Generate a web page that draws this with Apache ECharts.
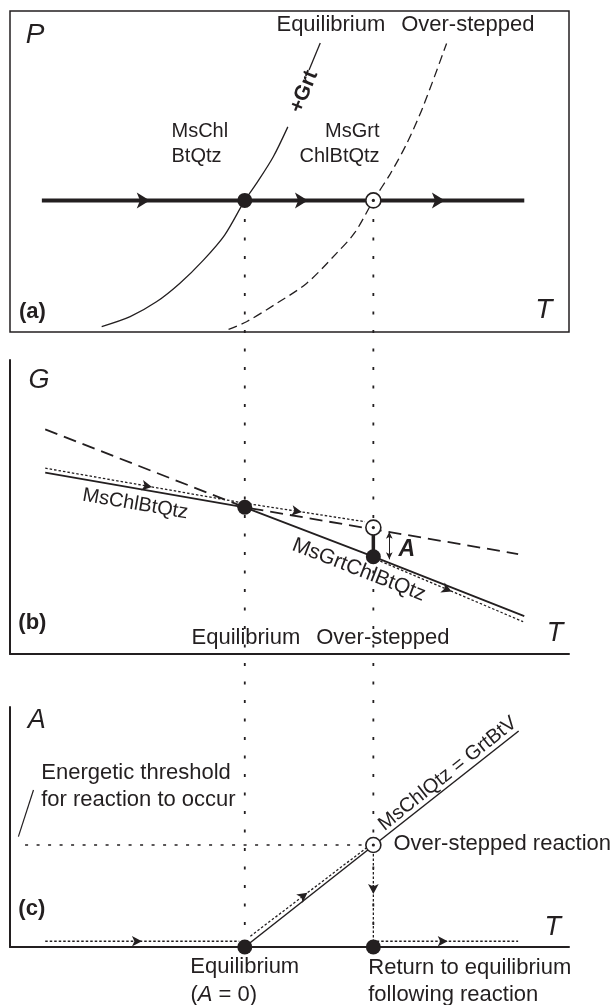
<!DOCTYPE html>
<html><head><meta charset="utf-8">
<style>html,body{margin:0;padding:0;background:#fff}#c{width:616px;height:1005px}</style>
<script src="https://cdn.jsdelivr.net/npm/echarts@6/dist/echarts.min.js"></script>
</head><body><div id="c"></div>
<script>
// ================= DATA (T on x, P / G / A on y, schematic units 0-100) =================
const T_EQ = 42, T_OS = 65;

// (a) P-T diagram
const eqCurveLowA = [[16.4,1.7],[21.5,4.8],[26.2,9.4],[30.4,15.2],[34.6,22.4],[38.4,30.2],[42,41],[44.1,46.3],[47.1,54.6],[49.7,63.9]];
const eqCurveTopA = [[53.5,81.6],[55.5,90.0]];
const osCurveA = [[39.1,0.8],[42.3,3.2],[47.7,8.9],[53.1,15.2],[58.4,24.5],[61.7,31.0],[65,41],[68.0,49.2],[71.0,58.8],[73.9,70.2],[78.1,89.9]];
const pathA = [[5.7,41],[92,41]];
const arrowsA = [[25,41],[53.3,41],[77.8,41]];
const dotsA = [[T_EQ,41]];
const ringsA = [[T_OS,41]];

// (b) G-T diagram
const solidB = [[6.3,61.7],[42,49.9],[65,33.1],[92,12.9]];
const dashedB = [[6.3,76.4],[42,49.9],[90.9,34.0]];
const dottedUpperB = [[6.3,63.2],[42,51.3],[63.5,45.0]];
const dottedLowerB = [[65.5,32.2],[91.8,11.0]];
const arrowsUpperB = [[25.4,56.8],[52.2,48.3]];
const arrowsLowerB = [[79,21.3]];
const connectorB = [[T_OS,43],[T_OS,33.1]];
const affinityB = [[67.85,41.6],[67.85,32.2]];
const dotsB = [[T_EQ,49.9],[T_OS,33.1]];
const ringsB = [[T_OS,43]];

// (c) A-T diagram
const reactionC = [[42,0],[91,90]];
const thresholdC = [[2.7,42.5],[63.5,42.5]];
const pointerC = [[1.5,46.0],[4.2,65.4]];
const dottedLeftC = [[6.3,2.4],[41,2.4]];
const dottedDiagC = [[43,4.5],[64.5,42.6]];
const dottedDownC = [[T_OS,42.5],[T_OS,0]];
const dottedRightC = [[65.6,2.4],[90.9,2.4]];
const arrowsLeftC = [[23.6,2.4]];
const arrowsDiagC = [[53.2,22.6]];
const arrowsDownC = [[T_OS,22.1]];
const arrowsRightC = [[78.3,2.4]];
const dotsC = [[T_EQ,0],[T_OS,0]];
const ringsC = [[T_OS,42.5]];

// guide lines through all panels (overlay, 0 = top path, 1 = bottom axis)
const guides = [[[T_EQ,0],[T_EQ,1]],[[T_OS,0],[T_OS,1]]];

// texts: [x, y, text]
const headA = [[57.4,95.6,'Equilibrium'],[81.9,95.6,'Over-stepped']];
const assemblageLeftA = [[28.8,62.4,'MsChl'],[28.8,54.6,'BtQtz']];
const assemblageRightA = [[66.2,62.4,'MsGrt'],[66.2,54.6,'ChlBtQtz']];
const curveLabelA = [[52.6,74.9,'+Grt']];
const axisNamesA = [[4.5,92.5,'P'],[95.5,6.9,'T']];
const tagA = [[4.0,6.2,'(a)']];

const footB = [[42.2,5.4,'Equilibrium'],[66.7,5.4,'Over-stepped']];
const lineLabelLeftB = [[22.4,51.0,'MsChlBtQtz']];
const lineLabelRightB = [[62.4,28.6,'MsGrtChlBtQtz']];
const affinityLabelB = [[71.0,35.4,'A']];
const axisNamesB = [[5.2,92.9,'G'],[97.5,7.1,'T']];
const tagB = [[4.0,10.5,'(b)']];

const thresholdTextC = [[5.5,72.5,'Energetic threshold'],[5.5,61.25,'for reaction to occur']];
const reactionLabelC = [[78.3,72.2,'MsChlQtz = GrtBtV']];
const rightTextC = [[68.5,42.9,'Over-stepped reaction'],[64.0,-8.75,'Return to equilibrium'],[64.0,-20,'following reaction'],[32.2,-20,'({i|A} = 0)']];
const eqTextC = [[42.0,-8.3,'Equilibrium']];
const axisNamesC = [[4.8,94.2,'A'],[97.1,8.3,'T']];
const tagC = [[3.9,15.8,'(c)']];

// ================= CHART =================
const INK = '#231f20';
const FONT = "'Liberation Sans', Arial, Helvetica, sans-serif";
const chart = echarts.init(document.getElementById('c'));

const grids = [
  {left:10, top:11, width:559, height:321, show:true, borderColor:INK, borderWidth:1.5, backgroundColor:'transparent'},
  {left:10, top:360, width:559, height:294},
  {left:10, top:707, width:559, height:240},
  {left:10, top:200.4, width:559, height:746.6}
];
const axisLine = {show:true, onZero:false, lineStyle:{color:INK, width:2}};
const xAxes = grids.map((g,i)=>({type:'value', gridIndex:i, min:0, max:100, show:(i===1||i===2),
  axisLine, axisTick:{show:false}, axisLabel:{show:false}, splitLine:{show:false}}));
const yAxes = grids.map((g,i)=>({type:'value', gridIndex:i, min:0, max:(i===3?1:100), inverse:(i===3), show:(i===1||i===2),
  axisLine, axisTick:{show:false}, axisLabel:{show:false}, splitLine:{show:false}}));

function line(g, data, w, type, extra){
  return Object.assign({type:'line', xAxisIndex:g, yAxisIndex:g, data, symbol:'none', showSymbol:false,
    silent:true, clip:false, z:2, animation:false, lineStyle:{color:INK, width:w, type:type||'solid', cap:'butt', opacity:1}}, extra||{});
}
function dots(g, data, size){
  return {type:'scatter', xAxisIndex:g, yAxisIndex:g, data, symbol:'circle', symbolSize:size||15,
    itemStyle:{color:INK, opacity:1}, z:5, silent:true, clip:false};
}
function rings(g, data){
  return [
    {type:'scatter', xAxisIndex:g, yAxisIndex:g, data, symbol:'circle', symbolSize:15,
      itemStyle:{color:'#fff', borderColor:INK, borderWidth:1.6, opacity:1}, z:6, silent:true, clip:false},
    {type:'scatter', xAxisIndex:g, yAxisIndex:g, data, symbol:'circle', symbolSize:3.2,
      itemStyle:{color:INK, opacity:1}, z:7, silent:true, clip:false}
  ];
}
function texts(g, items, st){
  const pos = st.align==='left' ? 'right' : (st.align==='right' ? 'left' : 'inside');
  return {type:'scatter', xAxisIndex:g, yAxisIndex:g, clip:false, silent:true, z:9, symbolSize:1,
    itemStyle:{color:'rgba(0,0,0,0)', opacity:1},
    data: items.map(d=>({value:[d[0],d[1]], name:d[2]})),
    label:{show:true, formatter:'{b}', position:pos, distance:0, color:INK, opacity:1, fontFamily:FONT,
      fontSize:st.size, fontWeight:st.weight||'normal', fontStyle:st.style||'normal', rotate:st.rotate||0,
      rich:{i:{fontStyle:'italic', fontSize:st.size, fontFamily:FONT, color:INK}}}};
}
// arrow heads: rotation from the path direction in pixel space
function arrowSeries(g, pts, path, size){
  const data = pts.map(p=>{
    const pp = chart.convertToPixel({xAxisIndex:g, yAxisIndex:g}, p);
    let best=null, bd=Infinity;
    for(let k=0;k<path.length-1;k++){
      const a = chart.convertToPixel({xAxisIndex:g, yAxisIndex:g}, path[k]);
      const b = chart.convertToPixel({xAxisIndex:g, yAxisIndex:g}, path[k+1]);
      const vx=b[0]-a[0], vy=b[1]-a[1], L2=vx*vx+vy*vy;
      let t=((pp[0]-a[0])*vx+(pp[1]-a[1])*vy)/L2; t=Math.max(0,Math.min(1,t));
      const dx=a[0]+t*vx-pp[0], dy=a[1]+t*vy-pp[1], d=dx*dx+dy*dy;
      if(d<bd){bd=d; best=[vx,vy];}
    }
    const phi = Math.atan2(-best[1], best[0])*180/Math.PI;
    return {value:p, symbolRotate: phi-90};
  });
  return {type:'scatter', xAxisIndex:g, yAxisIndex:g, data, symbol:'arrow', symbolSize:size,
    itemStyle:{color:INK, opacity:1}, z:8, silent:true, clip:false};
}

const DOT = [2.5,2];
function baseSeries(){
  return [
    // guides
    ...guides.map(gd=>line(3, gd, 1.8, [3,15.5], {z:1})),
    // (a)
    line(0, eqCurveLowA, 1.3, 'solid', {smooth:0.3}),
    line(0, eqCurveTopA, 1.3, 'solid'),
    line(0, osCurveA, 1.3, [9,5], {smooth:0.3}),
    line(0, pathA, 4, 'solid', {z:3}),
    dots(0, dotsA, 15), ...rings(0, ringsA),
    // (b)
    line(1, solidB, 1.8, 'solid'),
    line(1, dashedB, 1.8, [13,7]),
    line(1, dottedUpperB, 1.3, DOT),
    line(1, dottedLowerB, 1.3, DOT),
    line(1, connectorB, 3.5, 'solid', {z:4}),
    {type:'line', xAxisIndex:1, yAxisIndex:1, data:[], silent:true,
      markLine:{silent:true, symbol:['arrow','arrow'], symbolSize:[5,7], label:{show:false},
        lineStyle:{color:INK, width:1, type:'solid', opacity:1},
        data:[[{coord:affinityB[0]},{coord:affinityB[1]}]]}},
    dots(1, dotsB, 15), ...rings(1, ringsB),
    // (c)
    line(2, reactionC, 1.5, 'solid'),
    line(2, thresholdC, 1.5, [3,8.5]),
    line(2, pointerC, 1.2, 'solid'),
    line(2, dottedLeftC, 1.3, DOT),
    line(2, dottedDiagC, 1.3, DOT),
    line(2, dottedDownC, 1.3, DOT),
    line(2, dottedRightC, 1.3, DOT),
    dots(2, dotsC, 15), ...rings(2, ringsC),
    // texts
    texts(0, headA, {size:22}),
    texts(0, assemblageLeftA, {size:20, align:'left'}),
    texts(0, assemblageRightA, {size:20, align:'right'}),
    texts(0, curveLabelA, {size:21, weight:'bold', rotate:68}),
    texts(0, axisNamesA, {size:28, style:'italic'}),
    texts(0, tagA, {size:22, weight:'bold'}),
    texts(1, footB, {size:22}),
    texts(1, lineLabelLeftB, {size:20, rotate:-9.8}),
    texts(1, lineLabelRightB, {size:21, rotate:-21.3}),
    texts(1, affinityLabelB, {size:23, weight:'bold', style:'italic'}),
    texts(1, axisNamesB, {size:27, style:'italic'}),
    texts(1, tagB, {size:22, weight:'bold'}),
    texts(2, thresholdTextC, {size:22, align:'left'}),
    texts(2, reactionLabelC, {size:20, rotate:38.5}),
    texts(2, rightTextC, {size:22, align:'left'}),
    texts(2, eqTextC, {size:22}),
    texts(2, axisNamesC, {size:27, style:'italic'}),
    texts(2, tagC, {size:22, weight:'bold'})
  ];
}
const option = {animation:false, backgroundColor:'#fff', grid:grids, xAxis:xAxes, yAxis:yAxes, series:baseSeries()};
chart.setOption(option);
const arrowList = [
  arrowSeries(0, arrowsA, pathA, [12,13]),
  arrowSeries(1, arrowsUpperB, dottedUpperB, [8,10]),
  arrowSeries(1, arrowsLowerB, dottedLowerB, [8,10]),
  arrowSeries(2, arrowsLeftC, dottedLeftC, [8,10]),
  arrowSeries(2, arrowsDiagC, dottedDiagC, [8,10]),
  arrowSeries(2, arrowsDownC, dottedDownC, [8,10]),
  arrowSeries(2, arrowsRightC, dottedRightC, [8,10])
];
option.series = baseSeries().concat(arrowList);
chart.setOption(option, true);
</script></body></html>
